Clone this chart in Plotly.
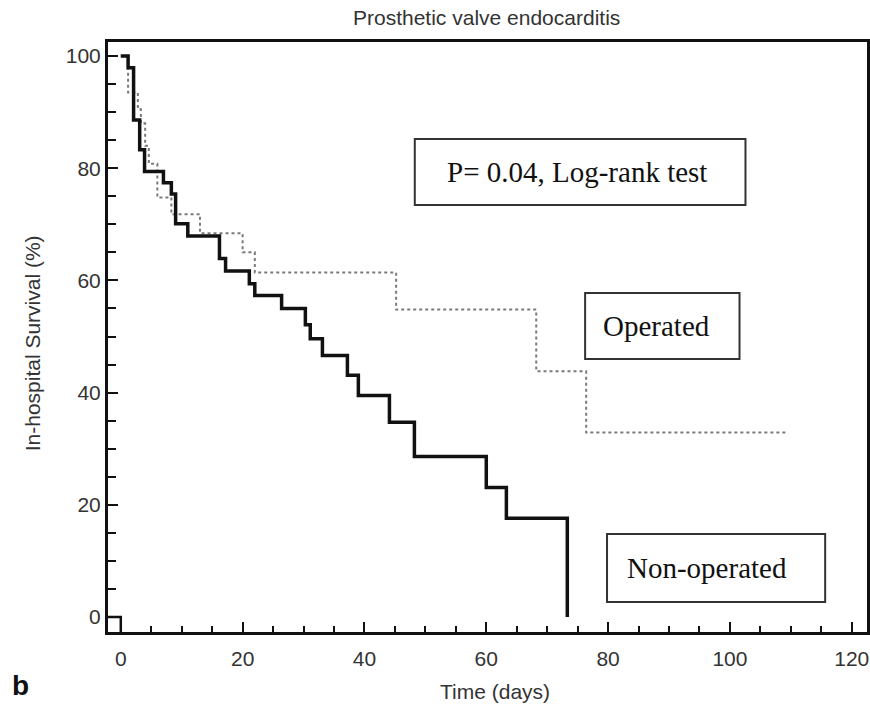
import plotly.graph_objects as go

# Kaplan-Meier in-hospital survival, prosthetic valve endocarditis
days_operated = [0, 1.2, 2.8, 3.3, 4.0, 4.6, 6.0, 8.3, 13.0, 20.0, 22.0, 45.2, 68.2, 76.4, 109.2]
surv_operated = [100, 93.5, 90.5, 88.0, 84.0, 80.8, 74.8, 71.8, 68.4, 65.0, 61.4, 54.8, 43.8, 32.9, 32.9]

days_nonop = [0, 1.2, 2.1, 3.1, 3.9, 7.0, 8.3, 9.0, 11.0, 16.2, 17.2, 21.1, 22.0, 26.4,
              30.3, 31.1, 33.1, 37.2, 39.0, 44.1, 48.2, 60.0, 63.3, 73.3]
surv_nonop = [100, 97.9, 88.6, 83.3, 79.4, 77.4, 75.4, 70.1, 67.9, 63.9, 61.7, 59.4, 57.3, 55.0,
              52.1, 49.6, 46.6, 43.1, 39.5, 34.7, 28.6, 23.1, 17.6, 0]

x_ticks = [0, 20, 40, 60, 80, 100, 120]
y_ticks = [0, 20, 40, 60, 80, 100]

X_RANGE = [-2.1, 122.5]
Y_RANGE = [-2.67, 102.5]

fig = go.Figure()

fig.add_trace(go.Scatter(
    x=days_operated, y=surv_operated, mode="lines", line_shape="hv",
    line=dict(color="#7a7a7a", width=2, dash="dot"), name="Operated",
))
fig.add_trace(go.Scatter(
    x=days_nonop, y=surv_nonop, mode="lines", line_shape="hv",
    line=dict(color="#111111", width=3.5), name="Non-operated",
))
# small start marker at the origin corner
fig.add_trace(go.Scatter(
    x=[X_RANGE[0], 0, 0], y=[0, 0, Y_RANGE[0]], mode="lines",
    line=dict(color="#111111", width=2.5), hoverinfo="skip",
))

tick_font = dict(family="Liberation Sans, Arial, sans-serif", size=21, color="#333333")

fig.update_xaxes(
    range=X_RANGE, tickvals=x_ticks, ticks="inside", ticklen=10, tickwidth=2,
    tickcolor="#111111", showline=True, linecolor="#111111", linewidth=3, mirror=True,
    showgrid=False, zeroline=False, tickfont=tick_font, ticklabelstandoff=6,
    minor=dict(ticks="inside", dtick=5, tick0=0, ticklen=6, tickwidth=2, tickcolor="#111111", showgrid=False),
)
fig.update_yaxes(
    range=Y_RANGE, tickvals=y_ticks, ticks="inside", ticklen=10, tickwidth=2,
    tickcolor="#111111", showline=True, linecolor="#111111", linewidth=3, mirror=True,
    showgrid=False, zeroline=False, tickfont=tick_font,
    minor=dict(ticks="inside", dtick=5, tick0=0, ticklen=8, tickwidth=2, tickcolor="#111111", showgrid=False),
)

L, R, T, B = 108, 0, 42, 77
W, H = 870, 709
pw, ph = W - L - R, H - T - B


def px(xp):
    return (xp - L) / pw


def py(yp):
    return (H - B - yp) / ph


# framed labels: text, text centre x, box left, box right, box top, box bottom
boxes = [
    ("P= 0.04, Log-rank test", 579, 416, 748, 139, 205),
    ("Operated", 659, 587, 742, 293, 359),
    ("Non-operated", 709, 609, 828, 534, 602),
]
serif = dict(family="Liberation Serif, Times New Roman, serif", size=29, color="#111111")
for text, cx, x0, x1, y0, y1 in boxes:
    fig.add_shape(type="rect", xref="paper", yref="paper",
                  x0=px(x0), x1=px(x1), y0=py(y1), y1=py(y0),
                  line=dict(color="#333333", width=2), fillcolor="white", layer="above")
    fig.add_annotation(text=text, xref="paper", yref="paper",
                       x=px(cx), y=py((y0 + y1) / 2),
                       showarrow=False, font=serif, xanchor="center", yanchor="middle")

label_font = dict(family="Liberation Sans, Arial, sans-serif", size=21, color="#333333")
fig.add_annotation(text="Prosthetic valve endocarditis", xref="paper", yref="paper",
                   x=px(488), y=py(18), showarrow=False, font=label_font,
                   xanchor="center", yanchor="middle")
fig.add_annotation(text="Time (days)", xref="paper", yref="paper",
                   x=px(497), y=py(691), showarrow=False, font=label_font,
                   xanchor="center", yanchor="middle")
fig.add_annotation(text="In-hospital Survival (%)", xref="paper", yref="paper",
                   x=px(32), y=py(343), showarrow=False, font=label_font, textangle=-90,
                   xanchor="center", yanchor="middle")
fig.add_annotation(text="<b>b</b>", xref="paper", yref="paper",
                   x=px(20), y=py(685), showarrow=False,
                   font=dict(family="Liberation Sans, Arial, sans-serif", size=28, color="#111111"),
                   xanchor="center", yanchor="middle")

fig.update_layout(
    width=W, height=H, margin=dict(l=L, r=R, t=T, b=B),
    paper_bgcolor="white", plot_bgcolor="white", showlegend=False,
)

fig.write_html("out.html")
